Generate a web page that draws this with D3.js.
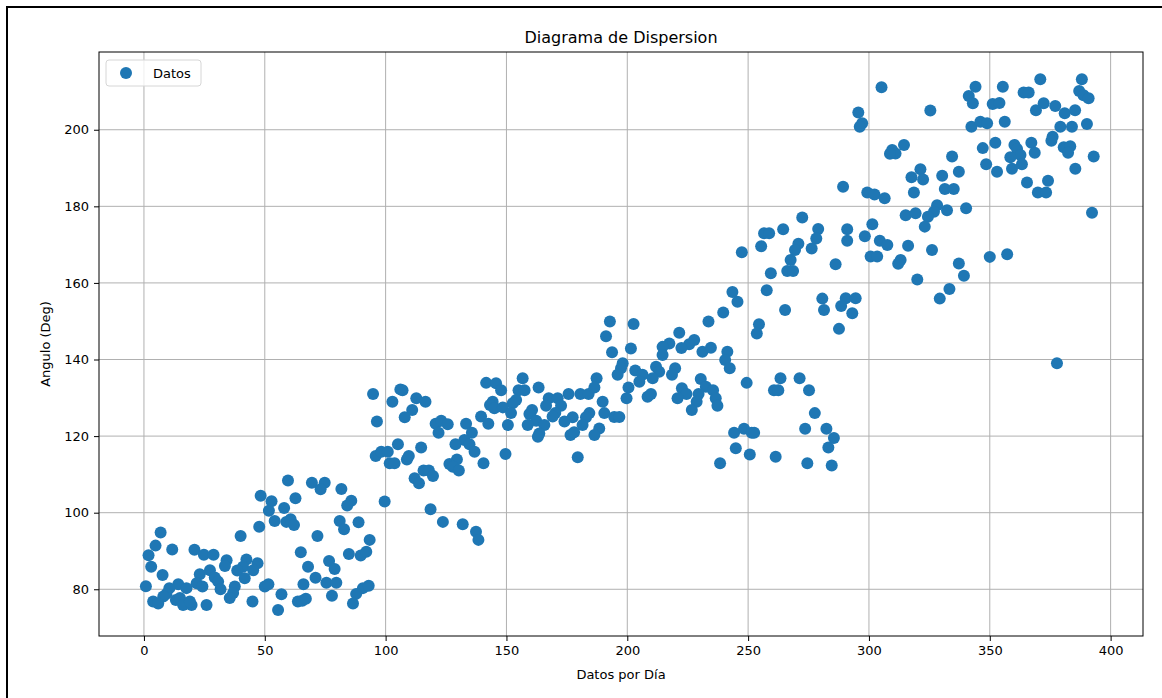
<!DOCTYPE html>
<meta charset="utf-8">
<body>
<script src="https://cdn.jsdelivr.net/npm/d3@7"></script>
<style>
    html, body {
        margin: 0;
        background: #fff;
    }
    text {
        font-family: "DejaVu Sans", sans-serif;
    }
</style>
<script>
// valores: [dia, angulo]
var puntos = [
    [48.3,104.4],[47.7,96.3],[40.0,93.9],[6.9,94.8],[4.8,91.4],[1.9,88.9],[11.7,90.4],[20.9,90.3],[24.8,89.0],[28.8,89.0],
    [3.0,85.9],[7.7,83.7],[0.8,80.8],[34.2,87.6],[33.5,86.1],[42.4,87.8],[47.0,86.8],[41.0,85.9],[38.6,84.9],[45.2,85.0],
    [41.7,82.9],[23.1,83.9],[27.3,85.0],[29.3,83.1],[30.7,82.0],[21.8,81.6],[24.2,80.7],[31.7,80.0],[37.6,80.7],[36.9,79.0],
    [35.5,77.7],[14.2,81.3],[17.6,80.3],[10.5,80.3],[9.3,78.8],[8.0,78.1],[3.8,76.8],[5.9,76.3],[13.2,77.2],[14.9,77.7],
    [16.2,75.9],[19.7,75.9],[19.0,76.8],[25.9,75.9],[44.9,76.8],[50.0,80.7],
    [59.6,108.4],[69.5,107.8],[74.8,107.8],[73.1,106.1],[81.7,106.2],[52.8,103.0],[62.7,103.8],[58.0,101.2],[51.7,100.5],[85.8,103.1],
    [84.1,101.9],[54.1,97.8],[58.9,97.6],[60.7,98.3],[62.1,96.8],[81.0,97.8],[82.8,95.7],[88.8,97.5],[71.8,93.9],[93.4,92.9],
    [64.9,89.7],[84.8,89.2],[89.7,88.8],[92.0,89.8],[76.6,87.4],[78.9,85.3],[67.9,85.9],[71.0,83.0],[75.5,81.7],[79.6,81.7],
    [66.0,81.3],[51.5,81.3],[90.6,80.3],[93.0,80.9],[56.9,78.7],[77.8,78.3],[87.8,78.8],[63.7,76.8],[65.5,77.0],[67.0,77.5],
    [86.5,76.3],[55.5,74.6],
    [94.8,131.0],[106.1,132.2],[107.0,132.0],[102.8,129.0],[112.7,129.9],[116.5,129.0],[111.0,126.8],[107.9,124.9],[96.4,123.8],[141.6,133.9],
    [145.7,133.8],[144.3,129.0],[143.2,128.1],[145.0,127.3],[139.5,125.1],[142.5,123.2],[133.3,123.2],[135.7,120.9],[120.7,123.2],[123.0,124.0],
    [125.7,123.1],[121.9,120.9],[132.6,119.0],[134.7,117.9],[136.8,115.9],[128.9,117.9],[129.5,113.9],[126.4,112.7],[127.8,112.0],[130.3,111.0],
    [140.5,112.9],[95.9,114.8],[98.2,115.9],[100.9,115.9],[105.1,117.9],[101.7,112.9],[103.7,112.9],[108.8,113.9],[109.6,114.8],[114.7,117.0],
    [115.7,111.0],[117.9,111.0],[119.6,109.6],[112.0,109.0],[113.8,107.7],[99.6,102.9],[118.6,100.9],[123.7,97.6],[131.9,97.0],[137.4,95.0],
    [138.4,92.9],
    [192.8,149.9],[191.2,146.1],[193.7,141.9],[156.7,135.1],[163.3,132.7],[147.8,132.0],[155.0,132.0],[157.5,132.0],[175.7,131.0],[180.6,131.0],
    [184.0,131.0],[187.3,135.1],[186.4,132.7],[167.5,129.9],[171.2,129.9],[154.0,129.4],[152.6,128.6],[148.5,127.5],[151.9,126.0],[166.4,127.9],
    [172.6,127.9],[170.2,126.0],[160.6,126.8],[159.5,125.8],[189.8,129.0],[190.5,126.0],[184.3,126.0],[182.9,124.9],[177.4,124.9],[169.1,125.1],
    [174.0,123.8],[162.3,124.0],[165.7,122.9],[158.8,122.9],[150.6,122.9],[181.5,122.9],[188.4,122.0],[186.4,120.3],[176.5,120.3],[178.0,121.0],
    [163.6,120.7],[163.0,119.8],[149.6,115.3],[179.5,114.5],
    [239.7,152.3],[245.6,155.1],[233.6,149.9],[202.6,149.3],[221.5,147.0],[217.4,144.2],[214.6,143.3],[227.7,145.1],[225.6,144.0],[222.4,143.0],
    [201.5,142.9],[231.1,142.0],[234.6,143.1],[241.4,142.0],[240.5,139.9],[242.4,137.7],[214.6,141.2],[198.1,139.0],[197.4,137.7],[196.0,136.0],
    [211.9,138.1],[213.2,136.8],[203.3,137.1],[206.3,136.0],[205.0,134.2],[210.5,135.1],[219.8,137.7],[218.5,136.0],[200.5,132.7],[199.7,129.9],
    [208.4,130.3],[209.8,131.0],[230.4,134.9],[232.5,132.9],[235.5,132.0],[222.6,132.5],[224.5,131.0],[229.5,131.0],[220.8,129.9],[228.7,129.0],
    [236.6,129.9],[237.3,127.9],[226.7,126.8],[194.6,125.0],[196.7,125.0],[244.2,120.9],[244.9,116.8],[238.4,112.9],
    [272.4,177.1],[264.5,174.0],[256.6,173.0],[258.7,173.0],[279.0,174.1],[278.2,171.6],[291.0,174.0],[291.0,171.0],[270.8,170.2],[269.4,168.6],
    [276.3,169.0],[255.4,169.6],[247.4,168.0],[267.6,166.0],[266.2,163.1],[268.6,163.1],[259.4,162.5],[286.2,164.9],[243.5,157.6],[257.7,158.1],
    [265.3,152.9],[280.7,155.9],[281.4,152.9],[290.4,156.0],[288.5,154.0],[287.6,148.0],[254.5,149.2],[253.6,146.8],[249.4,133.9],[263.4,135.1],
    [271.3,135.1],[260.7,132.0],[262.5,132.0],[275.2,132.0],[277.6,126.0],[248.3,121.9],[251.5,120.9],[252.5,120.9],[273.6,121.9],[282.4,121.9],
    [285.5,119.5],[283.2,117.0],[250.7,115.2],[261.4,114.6],[274.5,112.9],[284.6,112.3],
    [305.2,211.1],[325.4,205.0],[295.6,204.5],[297.2,201.7],[296.2,200.8],[314.5,196.0],[309.6,194.7],[311.0,193.8],[308.7,193.7],[334.4,193.0],
    [337.2,189.0],[321.3,189.7],[322.4,187.0],[317.6,187.6],[330.3,188.0],[318.6,183.6],[331.4,184.5],[335.1,184.5],[289.3,185.1],[299.3,183.6],
    [302.3,183.1],[306.5,182.1],[328.2,180.3],[332.3,179.0],[326.9,178.6],[324.4,177.3],[315.2,177.7],[319.3,178.2],[323.1,174.7],[301.4,175.3],
    [298.3,172.2],[304.5,171.0],[307.6,169.9],[316.2,169.7],[326.1,168.6],[300.7,166.9],[303.4,166.9],[313.1,166.0],[312.1,165.0],[337.2,165.1],
    [320.0,160.9],[333.3,158.4],[329.3,155.9],[294.5,156.0],[293.1,152.1],
    [370.9,213.2],[388.1,213.2],[344.1,211.2],[355.4,211.2],[364.0,209.7],[366.1,209.7],[387.0,210.1],[388.8,209.0],[390.9,208.2],[341.3,208.8],
    [343.0,206.9],[351.2,206.7],[354.0,207.0],[372.3,206.9],[377.1,206.2],[369.1,205.1],[381.0,204.3],[385.3,205.1],[390.2,201.5],[342.4,200.8],
    [346.1,202.1],[348.9,201.7],[356.2,202.1],[379.2,200.8],[384.0,200.8],[352.3,196.6],[360.2,196.0],[367.2,196.6],[376.0,198.2],[375.5,197.1],
    [380.6,195.4],[383.3,195.7],[382.4,194.0],[347.1,195.2],[361.3,195.0],[368.6,194.0],[362.7,193.4],[358.5,192.8],[393.0,193.0],[348.5,191.0],
    [353.0,189.0],[359.2,189.8],[363.3,191.0],[385.4,189.8],[365.4,186.2],[374.1,186.7],[369.9,183.6],[373.3,183.6],[340.2,179.5],[392.3,178.3],
    [339.3,161.9],[350.0,166.8],[357.2,167.5],[377.8,139.0]
];

var xTicks = [0, 50, 100, 150, 200, 250, 300, 350, 400],
    yTicks = [80, 100, 120, 140, 160, 180, 200];

var width = 1162,
    height = 698,
    m = {left: 99, right: 1143, top: 52, bottom: 636};

var svg = d3.select("body").append("svg")
    .attr("width", width)
    .attr("height", height)
    .style("display", "block");

// marco negro de la figura
svg.append("rect")
    .attr("x", 7).attr("y", 7)
    .attr("width", width).attr("height", height)
    .attr("fill", "none")
    .attr("stroke", "#000")
    .attr("stroke-width", 2);

var x = d3.scaleLinear().domain([-18.6, 413.4]).range([m.left, m.right]),
    y = d3.scaleLinear().domain([67.8, 220.3]).range([m.bottom, m.top]);

// rejilla
svg.append("g").selectAll("line")
    .data(xTicks).enter().append("line")
    .attr("x1", x).attr("x2", x)
    .attr("y1", m.top).attr("y2", m.bottom)
    .attr("stroke", "#b0b0b0").attr("stroke-width", 1);

svg.append("g").selectAll("line")
    .data(yTicks).enter().append("line")
    .attr("y1", y).attr("y2", y)
    .attr("x1", m.left).attr("x2", m.right)
    .attr("stroke", "#b0b0b0").attr("stroke-width", 1);

svg.append("g")
    .selectAll("circle")
    .data(puntos)
    .enter().append("circle")
    .attr("cx", function(d) { return x(d[0]); })
    .attr("cy", function(d) { return y(d[1]); })
    .attr("r", 6)
    .attr("fill", "#1f77b4");

var xAxis = svg.append("g")
    .attr("transform", "translate(0," + m.bottom + ")")
    .call(d3.axisBottom(x).tickValues(xTicks).tickSize(5).tickPadding(5));

var yAxis = svg.append("g")
    .attr("transform", "translate(" + m.left + ",0)")
    .call(d3.axisLeft(y).tickValues(yTicks).tickSize(5).tickPadding(5));

[xAxis, yAxis].forEach(function(a) {
    a.select(".domain").remove();
    a.selectAll("text")
        .style("font-family", "DejaVu Sans")
        .style("font-size", "13px")
        .attr("fill", "#000");
    a.selectAll("line").attr("stroke", "#000");
});

svg.append("rect")
    .attr("x", m.left).attr("y", m.top)
    .attr("width", m.right - m.left).attr("height", m.bottom - m.top)
    .attr("fill", "none")
    .attr("stroke", "#000")
    .attr("stroke-width", 1);

svg.append("text")
    .attr("x", (m.left + m.right) / 2).attr("y", 43)
    .attr("text-anchor", "middle")
    .style("font-size", "16px")
    .text("Diagrama de Dispersion");

svg.append("text")
    .attr("x", (m.left + m.right) / 2).attr("y", 679)
    .attr("text-anchor", "middle")
    .style("font-size", "13px")
    .text("Datos por Día");

svg.append("text")
    .attr("transform", "translate(50," + (m.top + m.bottom) / 2 + ") rotate(-90)")
    .attr("text-anchor", "middle")
    .style("font-size", "13px")
    .text("Angulo (Deg)");

// leyenda
var legend = svg.append("g").attr("transform", "translate(106,60)");
legend.append("rect")
    .attr("width", 95).attr("height", 26)
    .attr("rx", 3)
    .attr("fill", "#fff").attr("fill-opacity", 0.8)
    .attr("stroke", "#d6d6d6");
legend.append("circle")
    .attr("cx", 20).attr("cy", 13).attr("r", 6)
    .attr("fill", "#1f77b4");
legend.append("text")
    .attr("x", 47).attr("y", 18)
    .style("font-size", "13px")
    .text("Datos");
</script>
